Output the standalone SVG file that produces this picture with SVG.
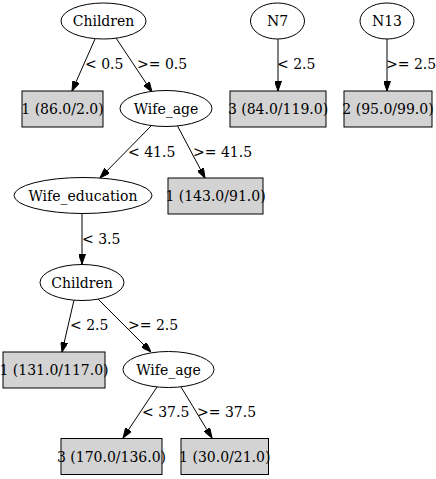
<svg xmlns="http://www.w3.org/2000/svg" width="436" height="479" viewBox="0 0 436 479">
<defs>
<marker id="arr" markerWidth="10" markerHeight="7" refX="10" refY="3.5" orient="auto" markerUnits="userSpaceOnUse">
<path d="M0,0 L10,3.5 L0,7 z" fill="#000" stroke="#000" stroke-width="1"/>
</marker>
</defs>
<style>
text{font-family:"DejaVu Serif",serif;font-size:14px;fill:#000}
.n{text-anchor:middle}
ellipse{fill:#fff;stroke:#000;stroke-width:1}
rect{fill:#d3d3d3;stroke:#000;stroke-width:1}
.e line{stroke:#000;stroke-width:1;marker-end:url(#arr)}
</style>
<rect x="0" y="0" width="436" height="479" style="fill:#fff;stroke:none"/>
<g class="e" id="edges">
<line x1="95" y1="39" x2="72" y2="91"/>
<line x1="116" y1="38" x2="152" y2="92"/>
<line x1="278" y1="39" x2="278" y2="91"/>
<line x1="387" y1="39" x2="387" y2="91"/>
<line x1="152" y1="125" x2="100" y2="178"/>
<line x1="177" y1="125" x2="205" y2="178"/>
<line x1="82" y1="213" x2="82" y2="264"/>
<line x1="74" y1="300" x2="62" y2="352"/>
<line x1="97" y1="298" x2="151" y2="352"/>
<line x1="157" y1="387" x2="123" y2="438"/>
<line x1="181" y1="387" x2="212" y2="438"/>
<text x="85" y="69">&lt; 0.5</text>
<text x="137" y="69">&gt;= 0.5</text>
<text x="277" y="69">&lt; 2.5</text>
<text x="386" y="69">&gt;= 2.5</text>
<text x="128" y="157">&lt; 41.5</text>
<text x="193" y="157">&gt;= 41.5</text>
<text x="82" y="244">&lt; 3.5</text>
<text x="70" y="330">&lt; 2.5</text>
<text x="128" y="330">&gt;= 2.5</text>
<text x="142" y="417">&lt; 37.5</text>
<text x="197" y="417">&gt;= 37.5</text>
</g>
<g id="n_children1"><ellipse cx="103.5" cy="21" rx="42.5" ry="18"/><text class="n" x="103.5" y="26">Children</text></g>
<g id="n_leaf1"><rect x="22" y="91" width="81" height="36"/><text class="n" x="62.5" y="114">1 (86.0/2.0)</text></g>
<g id="n_wifeage1"><ellipse cx="166" cy="108.5" rx="46" ry="18"/><text class="n" x="166" y="113.5">Wife_age</text></g>
<g id="n_n7"><ellipse cx="277.5" cy="21" rx="27" ry="18"/><text class="n" x="277.5" y="26">N7</text></g>
<g id="n_leaf_n7"><rect x="230" y="91" width="96" height="36"/><text class="n" x="278" y="114">3 (84.0/119.0)</text></g>
<g id="n_n13"><ellipse cx="387" cy="21" rx="27" ry="18"/><text class="n" x="387" y="26">N13</text></g>
<g id="n_leaf_n13"><rect x="344" y="91" width="88" height="36"/><text class="n" x="388" y="114">2 (95.0/99.0)</text></g>
<g id="n_wifeedu"><ellipse cx="83" cy="195.5" rx="69" ry="18"/><text class="n" x="83" y="200.5">Wife_education</text></g>
<g id="n_leaf2"><rect x="168" y="178" width="95" height="36"/><text class="n" x="215.5" y="201">1 (143.0/91.0)</text></g>
<g id="n_children2"><ellipse cx="82" cy="282.5" rx="42" ry="18"/><text class="n" x="82" y="287.5">Children</text></g>
<g id="n_leaf3"><rect x="3" y="352" width="102" height="36"/><text class="n" x="54" y="375">1 (131.0/117.0)</text></g>
<g id="n_wifeage2"><ellipse cx="168.5" cy="369.5" rx="45.5" ry="18"/><text class="n" x="168.5" y="374.5">Wife_age</text></g>
<g id="n_leaf4"><rect x="61" y="438.5" width="101" height="36"/><text class="n" x="111.5" y="461.5">3 (170.0/136.0)</text></g>
<g id="n_leaf5"><rect x="181" y="438.5" width="87.5" height="36"/><text class="n" x="224.75" y="461.5">1 (30.0/21.0)</text></g>
</svg>
